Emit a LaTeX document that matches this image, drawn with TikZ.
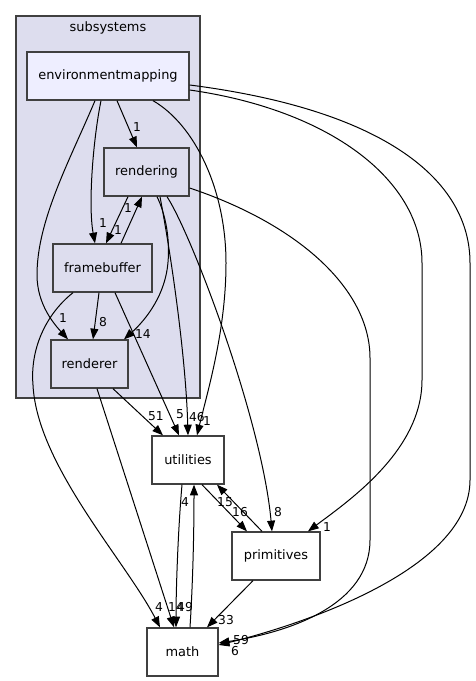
\documentclass[tikz,border=0pt]{standalone}
\usepackage{fontspec}
\setmainfont{DejaVu Sans}
\usetikzlibrary{arrows.meta}
\definecolor{clusterbg}{HTML}{DDDDEE}
\definecolor{envbg}{HTML}{EEEEFF}
\definecolor{boxline}{HTML}{404040}

\begin{document}
\begin{tikzpicture}[x=.75pt, y=-.75pt,
    dir/.style={draw=boxline, line width=1pt, inner sep=0pt, minimum height=36pt, font=\fontsize{9.7}{11}\selectfont},
    dep/.style={-{Triangle[length=8pt,width=6pt]}, line width=.75pt},
    num/.style={inner sep=0pt, font=\fontsize{9.2}{10}\selectfont}]
\useasboundingbox (0,0) rectangle (475,681);
\draw[boxline, fill=clusterbg, line width=1pt] (16,16) rectangle (200,398);
\node[inner sep=0pt, font=\fontsize{9.7}{11}\selectfont] (subsystems) at (108,27.5) {subsystems};

\node[dir, fill=envbg, minimum width=121.5pt] (env) at (108,76) {environmentmapping};
\node[dir, minimum width=63.75pt] (rendering) at (146.5,172) {rendering};
\node[dir, minimum width=74.25pt] (framebuffer) at (102.5,268) {framebuffer};
\node[dir, minimum width=57.75pt] (renderer) at (89.5,364) {renderer};
\node[dir, fill=white, minimum width=54pt] (utilities) at (188,460) {utilities};
\node[dir, fill=white, minimum width=66pt] (primitives) at (276,556) {primitives};
\node[dir, fill=white, minimum width=53.25pt] (math) at (182.5,652) {math};

\draw[dep] ([shift={(9,0)}]env.south) -- ([shift={(-9.5,0)}]rendering.north);
\draw[dep] ([shift={(-7,0)}]env.south) .. controls (93,140) and (88,205) .. ([shift={(-7.5,0)}]framebuffer.north);
\draw[dep] ([shift={(-13,0)}]env.south) .. controls (70,160) and (37,220) .. (37,275) .. controls (37,305) and (55,325) .. ([shift={(-21.5,0)}]renderer.north);
\draw[dep] ([shift={(45,0)}]env.south) .. controls (195,125) and (226,190) .. (226,263) .. controls (226,330) and (208,390) .. ([shift={(9,0)}]utilities.north);
\draw[dep] ([shift={(0,14)}]env.east) .. controls (330,110) and (422,180) .. (422,263) -- (422,380) .. controls (422,450) and (350,500) .. ([shift={(32,0)}]primitives.north);
\draw[dep] ([shift={(0,9)}]env.east) .. controls (385,110) and (470,180) .. (470,263) -- (470,480) .. controls (470,570) and (300,625) .. ([shift={(0,-7)}]math.east);

\draw[dep] ([shift={(-18.5,0)}]rendering.south) -- ([shift={(3.5,0)}]framebuffer.north);
\draw[dep] ([shift={(18.5,0)}]framebuffer.north) -- ([shift={(-4.5,0)}]rendering.south);
\draw[dep] ([shift={(10.5,0)}]rendering.south) .. controls (166,215) and (170,240) .. (168,262) .. controls (165,300) and (140,325) .. ([shift={(34.5,0)}]renderer.north);
\draw[dep] ([shift={(13.5,0)}]rendering.south) .. controls (172,260) and (186,360) .. (utilities.north);
\draw[dep] ([shift={(20.5,0)}]rendering.south) .. controls (192,235) and (262,420) .. ([shift={(-4,0)}]primitives.north);
\draw[dep] ([shift={(0,16)}]rendering.east) .. controls (300,225) and (370,290) .. (370,358) -- (370,540) .. controls (370,605) and (290,632) .. ([shift={(0,-9)}]math.east);

\draw[dep] ([shift={(-3.5,0)}]framebuffer.south) -- ([shift={(3.5,0)}]renderer.north);
\draw[dep] ([shift={(12.5,0)}]framebuffer.south) -- ([shift={(-9,0)}]utilities.north);
\draw[dep] ([shift={(-29.5,0)}]framebuffer.south) .. controls (45,315) and (30,350) .. (33,385) .. controls (37,465) and (125,560) .. ([shift={(-22.5,0)}]math.north);

\draw[dep] ([shift={(23.5,0)}]renderer.south) -- ([shift={(-25,0)}]utilities.north);
\draw[dep] ([shift={(7.5,0)}]renderer.south) -- ([shift={(-8.5,0)}]math.north);

\draw[dep] ([shift={(-6,0)}]utilities.south) .. controls (178,530) and (176,590) .. ([shift={(-6.5,0)}]math.north);
\draw[dep] ([shift={(7.5,0)}]math.north) .. controls (193,580) and (194,530) .. ([shift={(6,0)}]utilities.south);
\draw[dep] ([shift={(14,0)}]utilities.south) -- ([shift={(-29,0)}]primitives.north);
\draw[dep] ([shift={(-14,0)}]primitives.north) -- ([shift={(29,0)}]utilities.south);
\draw[dep] ([shift={(-23,0)}]primitives.south) -- ([shift={(24.5,0)}]math.north);

\node[num] (n1) at (137,127) {1};
\node[num] (n2) at (103,223) {1};
\node[num] (n3) at (128,208) {1};
\node[num] (n4) at (118,230) {1};
\node[num] (n5) at (63,318) {1};
\node[num] (n6) at (103,322) {8};
\node[num] (n7) at (143,334) {14};
\node[num] (n8) at (156,416) {51};
\node[num] (n9) at (180,414) {5};
\node[num] (n10) at (197,417) {46};
\node[num] (n11) at (207,421) {1};
\node[num] (n12) at (185,502) {4};
\node[num] (n13) at (225,502) {15};
\node[num] (n14) at (240,512) {16};
\node[num] (n15) at (278,512) {8};
\node[num] (n16) at (327,527) {1};
\node[num] (n17) at (159,607) {4};
\node[num] (n18) at (176,607) {14};
\node[num] (n19) at (185,607) {49};
\node[num] (n20) at (226,620) {33};
\node[num] (n21) at (241,640) {59};
\node[num] (n22) at (235,651) {6};
\end{tikzpicture}
\end{document}
